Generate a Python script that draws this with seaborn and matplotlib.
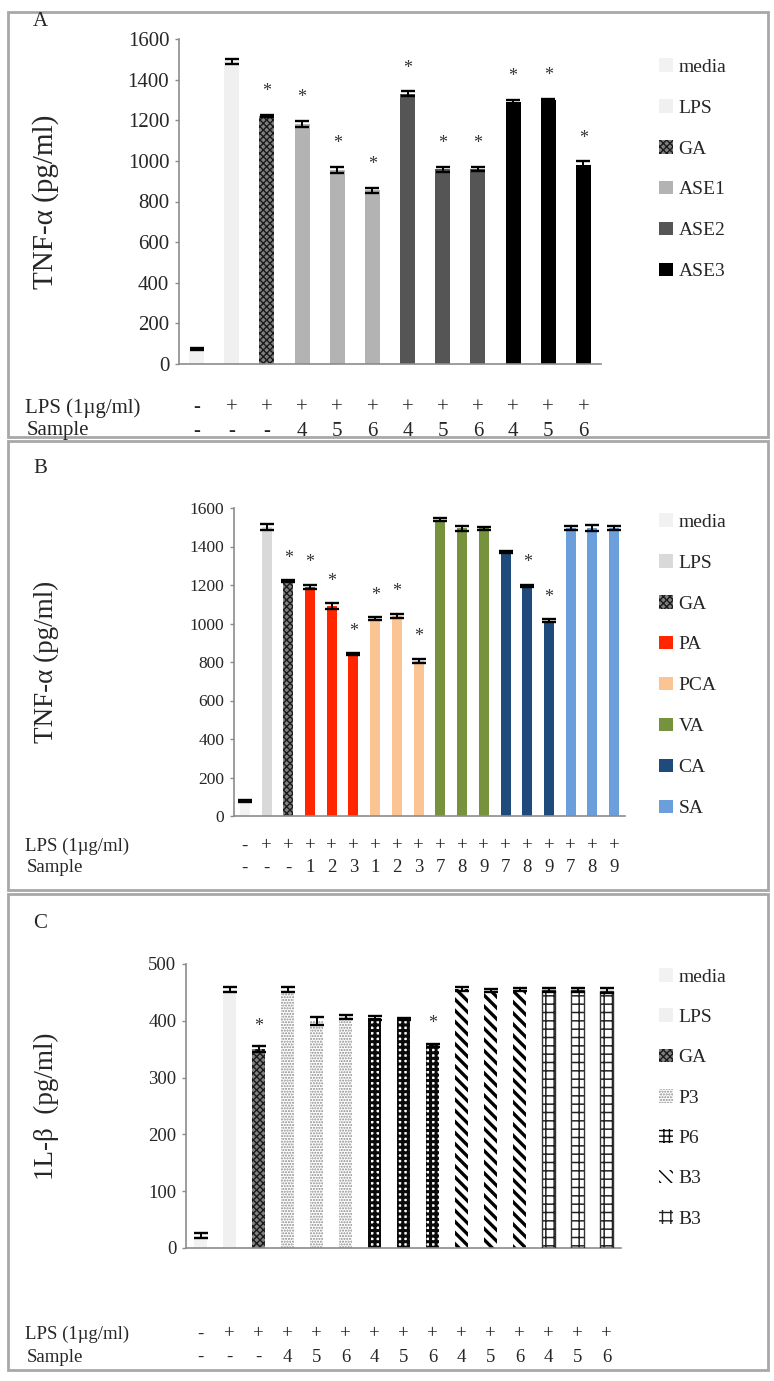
import numpy as np
import pandas as pd
import matplotlib
matplotlib.use("Agg")
import matplotlib.pyplot as plt
import seaborn as sns
from matplotlib.patches import Patch, Rectangle
from matplotlib.transforms import blended_transform_factory

# ---------------- data ----------------
# Panel A : TNF-alpha
a_groups = ["media", "LPS", "GA", "ASE1", "ASE1", "ASE1", "ASE2", "ASE2", "ASE2", "ASE3", "ASE3", "ASE3"]
a_values = [75, 1490, 1220, 1180, 955, 855, 1330, 958, 960, 1290, 1298, 982]
a_errors = [5, 12, 5, 15, 17, 12, 12, 13, 12, 12, 7, 15]
a_star = [0, 0, 1, 1, 1, 1, 1, 1, 1, 1, 1, 1]
a_lps = ["-", "+", "+", "+", "+", "+", "+", "+", "+", "+", "+", "+"]
a_sample = ["-", "-", "-", "4", "5", "6", "4", "5", "6", "4", "5", "6"]
a_legend = ["media", "LPS", "GA", "ASE1", "ASE2", "ASE3"]

# Panel B : TNF-alpha
b_groups = ["media", "LPS", "GA", "PA", "PA", "PA", "PCA", "PCA", "PCA",
            "VA", "VA", "VA", "CA", "CA", "CA", "SA", "SA", "SA"]
b_values = [80, 1500, 1220, 1190, 1090, 840, 1025, 1040, 805,
            1540, 1495, 1495, 1370, 1195, 1015, 1495, 1495, 1495]
b_errors = [5, 15, 5, 12, 15, 5, 8, 10, 12, 10, 12, 8, 5, 5, 7, 10, 15, 10]
b_star = [0, 0, 1, 1, 1, 1, 1, 1, 1, 0, 0, 0, 0, 1, 1, 0, 0, 0]
b_lps = ["-"] + ["+"] * 17
b_sample = ["-", "-", "-", "1", "2", "3", "1", "2", "3", "7", "8", "9", "7", "8", "9", "7", "8", "9"]
b_legend = ["media", "LPS", "GA", "PA", "PCA", "VA", "CA", "SA"]

# Panel C : IL-beta
c_groups = ["media", "LPS", "GA", "P3", "P3", "P3", "P6", "P6", "P6",
            "B3a", "B3a", "B3a", "B3b", "B3b", "B3b"]
c_values = [22, 455, 350, 455, 400, 407, 405, 403, 357, 456, 453, 455, 454, 454, 453]
c_errors = [4, 5, 5, 5, 7, 4, 3, 2, 3, 4, 3, 2, 3, 3, 4]
c_star = [0, 0, 1, 0, 0, 0, 0, 0, 1, 0, 0, 0, 0, 0, 0]
c_lps = ["-"] + ["+"] * 14
c_sample = ["-", "-", "-", "4", "5", "6", "4", "5", "6", "4", "5", "6", "4", "5", "6"]
c_legend = ["media", "LPS", "GA", "P3", "P6", "B3a", "B3b"]
c_legend_labels = ["media", "LPS", "GA", "P3", "P6", "B3", "B3"]

# ---------------- styles ----------------
# (facecolor, hatch, hatchcolor, hatch linewidth, outline)
STY = {
    "media": ("#f2f2f2", None, None, 0, None),
    "LPS_A": ("#f0f0f0", None, None, 0, None),
    "LPS_B": ("#d9d9d9", None, None, 0, None),
    "GA": ("#808080", "xxxxx", "#1a1a1a", 1.0, None),
    "ASE1": ("#b3b3b3", None, None, 0, None),
    "ASE2": ("#555555", None, None, 0, None),
    "ASE3": ("#000000", None, None, 0, None),
    "PA": ("#ff2600", None, None, 0, None),
    "PCA": ("#fac493", None, None, 0, None),
    "VA": ("#76923c", None, None, 0, None),
    "CA": ("#1f4a7c", None, None, 0, None),
    "SA": ("#6a9fdc", None, None, 0, None),
    "P3": ("#ffffff", "......", "#8a8a8a", 1.0, None),
    "P6": ("#ffffff", "+++", "#0a0a0a", 2.2, None),
    "B3a": ("#ffffff", "\\\\\\", "#000000", 2.4, None),
    "B3b": ("#ffffff", "++", "#222222", 1.1, "#333333"),
}

sns.set_theme(style="white")
plt.rcParams["font.family"] = ["Liberation Serif", "DejaVu Serif"]
plt.rcParams["hatch.linewidth"] = 1.0

W, H = 774, 1381
fig = plt.figure(figsize=(W / 100, H / 100), dpi=100)


def fx(px):
    return px / W


def fy(py):
    return 1 - py / H


def style_key(g, panel):
    if g == "LPS":
        return "LPS_B" if panel == "B" else "LPS_A"
    return g


def panel(box, axbox, groups, values, errors, stars, lps, sample, legend_keys,
          legend_labels, ymax, ystep, ylabel, letter, fs_tick, fs_leg, fs_row,
          fs_ylab, bar_w, star_off, legend_top, leg_spacing, rows_y, ylab_x, letter_y, pname):
    x0, y0, x1, y1 = box
    fig.add_artist(Rectangle((fx(x0), fy(y1)), fx(x1) - fx(x0), fy(y0) - fy(y1),
                             transform=fig.transFigure, fill=False,
                             edgecolor="#a8a8a8", lw=2.0))
    fig.text(fx(33), fy(letter_y), letter, fontsize=15, ha="left", va="center")

    l, r, b, t = axbox
    ax = fig.add_axes([fx(l), fy(b), fx(r) - fx(l), fy(t) - fy(b)])
    n = len(values)
    cats = [f"{i}" for i in range(n)]
    df = pd.DataFrame({"cat": cats, "value": values, "group": groups})
    hue_order = list(dict.fromkeys(groups))
    pal = {g: STY[style_key(g, pname)][0] for g in hue_order}
    sns.barplot(data=df, x="cat", y="value", hue="group", hue_order=hue_order,
                order=cats, palette=pal, dodge=False, width=bar_w,
                errorbar=None, legend=False, ax=ax, saturation=1)
    for bar in ax.patches:
        i = int(round(bar.get_x() + bar.get_width() / 2))
        fc, hatch, hc, hlw, oc = STY[style_key(groups[i], pname)]
        bar.set_facecolor(fc)
        if hatch:
            bar.set_hatch(hatch)
            bar.set_edgecolor(hc)
            if hasattr(bar, "set_hatch_linewidth"):
                bar.set_hatch_linewidth(hlw)
        else:
            bar.set_edgecolor(fc)
        bar.set_linewidth(0)
        if oc:
            ax.add_patch(Rectangle((bar.get_x(), 0), bar.get_width(), bar.get_height(),
                                   fill=False, edgecolor=oc, lw=1.0, zorder=3))
    ax.errorbar(np.arange(n), values, yerr=errors, fmt="none", ecolor="black",
                elinewidth=1.4, capsize=5, capthick=1.7, zorder=5)
    for i in range(n):
        if stars[i]:
            ax.text(i, values[i] + errors[i] + star_off, "*", ha="center",
                    va="center", fontsize=13, color="#333333")
    ax.set_xlim(-0.5, n - 0.5)
    ax.set_ylim(0, ymax)
    ax.set_yticks(np.arange(0, ymax + 1, ystep))
    ax.set_yticklabels([str(int(v)) for v in np.arange(0, ymax + 1, ystep)],
                       fontsize=fs_tick, color="#262626")
    ax.set_xticks([])
    ax.set_xlabel("")
    ax.set_ylabel("")
    for s in ["top", "right"]:
        ax.spines[s].set_visible(False)
    for s in ["left", "bottom"]:
        ax.spines[s].set_color("#8c8c8c")
        ax.spines[s].set_linewidth(1.2)
    ax.tick_params(axis="y", left=True, length=3, width=1.0, color="#8c8c8c", pad=4)
    ax.set_facecolor("none")
    fig.text(fx(ylab_x), (fy(b) + fy(t)) / 2, ylabel, rotation=90, ha="center",
             va="center", fontsize=fs_ylab)

    tr = blended_transform_factory(ax.transData, fig.transFigure)
    ry1, ry2 = rows_y
    fig.text(fx(25), fy(ry1), "LPS (1\u00b5g/ml)", fontsize=fs_row, va="center", ha="left")
    fig.text(fx(27), fy(ry2), "Sample", fontsize=fs_row, va="center", ha="left")
    for i in range(n):
        ax.text(i, fy(ry1), lps[i], transform=tr, ha="center", va="center", fontsize=fs_row)
        ax.text(i, fy(ry2), sample[i], transform=tr, ha="center", va="center", fontsize=fs_row)

    handles = []
    for k, lab in zip(legend_keys, legend_labels):
        fc, hatch, hc, hlw, oc = STY[style_key(k, pname)]
        p = Patch(facecolor=fc, hatch=hatch, edgecolor=hc if hatch else fc, linewidth=0, label=lab)
        handles.append(p)
    fig.legend(handles=handles, loc="upper left",
               bbox_to_anchor=(fx(659), fy(legend_top)), frameon=False,
               fontsize=fs_leg, handlelength=0.7, handleheight=0.7,
               handletextpad=0.3, labelspacing=leg_spacing, borderpad=0,
               borderaxespad=0)
    return ax


panel(box=(8, 12, 768, 437), axbox=(179, 601, 364, 39), groups=a_groups, values=a_values,
      errors=a_errors, stars=a_star, lps=a_lps, sample=a_sample,
      legend_keys=a_legend, legend_labels=a_legend, ymax=1600, ystep=200,
      ylabel="TNF-\u03b1 (pg/ml)", letter="A", fs_tick=15, fs_leg=14, fs_row=15,
      fs_ylab=21, bar_w=0.43, star_off=115, legend_top=58, leg_spacing=1.2,
      rows_y=(408, 431), ylab_x=46, letter_y=22, pname="A")

panel(box=(8, 441, 768, 890), axbox=(234, 625, 816, 508), groups=b_groups, values=b_values,
      errors=b_errors, stars=b_star, lps=b_lps, sample=b_sample,
      legend_keys=b_legend, legend_labels=b_legend, ymax=1600, ystep=200,
      ylabel="TNF-\u03b1 (pg/ml)", letter="B", fs_tick=12.5, fs_leg=14, fs_row=13.5,
      fs_ylab=19.5, bar_w=0.46, star_off=115, legend_top=513, leg_spacing=1.2,
      rows_y=(846, 868), ylab_x=46, letter_y=468, pname="B")

panel(box=(8, 894, 768, 1370), axbox=(186, 621, 1248, 964), groups=c_groups, values=c_values,
      errors=c_errors, stars=c_star, lps=c_lps, sample=c_sample,
      legend_keys=c_legend, legend_labels=c_legend_labels, ymax=500, ystep=100,
      ylabel="1L-\u03b2  (pg/ml)", letter="C", fs_tick=13.5, fs_leg=14, fs_row=13.5,
      fs_ylab=19.5, bar_w=0.42, star_off=35, legend_top=968, leg_spacing=1.17,
      rows_y=(1334, 1357), ylab_x=46, letter_y=924, pname="C")

fig.savefig("out.png", dpi=100)
